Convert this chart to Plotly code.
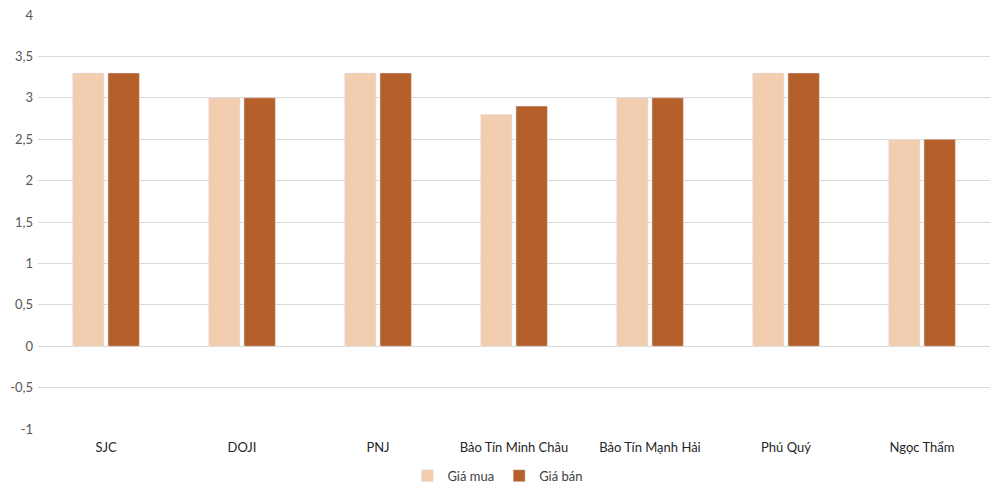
import plotly.graph_objects as go

# brands and price changes (million VND / tael)
brands = ["SJC", "DOJI", "PNJ", "Bảo Tín Minh Châu", "Bảo Tín Mạnh Hải", "Phú Quý", "Ngọc Thẩm"]
buy_change = [3.3, 3.0, 3.3, 2.8, 3.0, 3.3, 2.5]
sell_change = [3.3, 3.0, 3.3, 2.9, 3.0, 3.3, 2.5]
y_ticks = [-1, -0.5, 0, 0.5, 1, 1.5, 2, 2.5, 3, 3.5, 4]
y_tick_labels = ["-1", "-0,5", "0", "0,5", "1", "1,5", "2", "2,5", "3", "3,5", "4"]

fig = go.Figure()
fig.add_trace(go.Bar(name="Giá mua", x=brands, y=buy_change, marker_color="#F3CDAF"))
fig.add_trace(go.Bar(name="Giá bán", x=brands, y=sell_change, marker_color="#B5602B"))

# page body has an 8px margin, so the figure is a bit smaller than the window
fig.update_layout(
    width=992,
    height=491,
    barmode="group",
    bargap=0.48,
    bargroupgap=0.11,
    separators=",.",
    plot_bgcolor="white",
    paper_bgcolor="white",
    font=dict(family="Lato, Open Sans, sans-serif", size=13, color="#404040"),
    margin=dict(l=30, r=10, t=7, b=70, autoexpand=False),
    legend=dict(
        orientation="h",
        x=0.388,
        xanchor="left",
        y=-0.113,
        yanchor="middle",
        font=dict(size=13, color="#404040"),
        itemwidth=30,
    ),
    showlegend=True,
)
fig.update_yaxes(
    range=[-1, 4.0001],
    tickvals=y_ticks,
    ticktext=y_tick_labels,
    showgrid=True,
    gridcolor="#D9D9D9",
    zeroline=False,
    tickfont=dict(color="#595959", size=13),
    ticks="",
    automargin=False,
    ticklabelstandoff=4,
    ticklabeloverflow="allow",
)
fig.update_xaxes(
    showline=False,
    tickfont=dict(color="#262626", size=13),
    ticks="",
    automargin=False,
    ticklabelstandoff=9,
)

fig.write_html("out.html")
